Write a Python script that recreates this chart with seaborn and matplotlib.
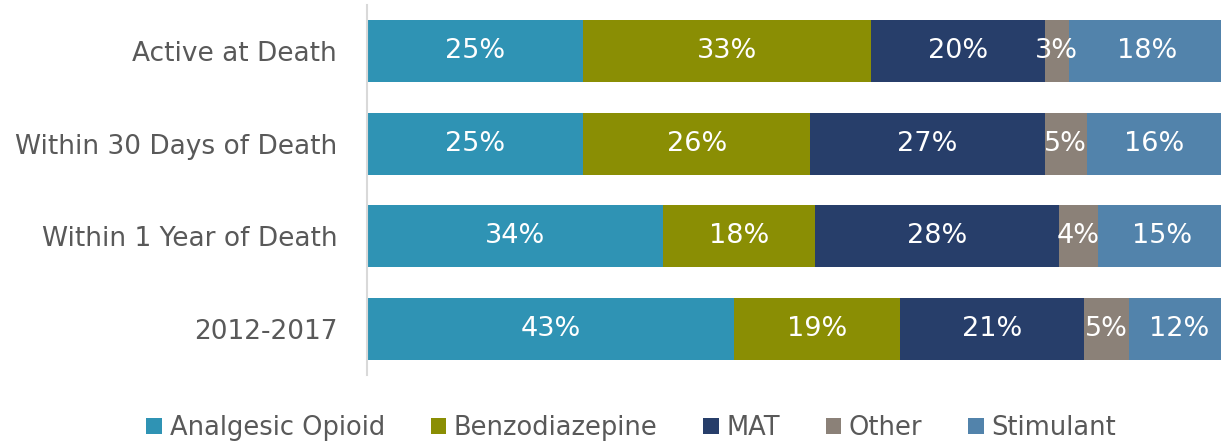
import matplotlib
matplotlib.use("Agg")
import matplotlib.pyplot as plt
import seaborn as sns
import pandas as pd
import numpy as np
from matplotlib.patches import Patch

categories = ["Active at Death", "Within 30 Days of Death", "Within 1 Year of Death", "2012-2017"]
series = ["Analgesic Opioid", "Benzodiazepine", "MAT", "Other", "Stimulant"]
analgesic_opioid = [25.1, 25.1, 34.4, 42.6]
benzodiazepine = [33.4, 26.4, 17.6, 19.3]
mat = [20.2, 27.2, 28.4, 21.4]
other = [2.8, 4.9, 4.45, 5.2]
stimulant = [18.2, 15.6, 14.9, 11.6]
colors = ["#2F93B4", "#8A8E04", "#273E6A", "#8B8178", "#5283AB"]

values = [analgesic_opioid, benzodiazepine, mat, other, stimulant]

sns.set_style("white")
plt.rcParams["font.family"] = ["DejaVu Sans"]

fig = plt.figure(figsize=(12.21, 4.45), dpi=100)
ax = fig.add_axes([367 / 1221, 70 / 445, (1228 - 367) / 1221, 370 / 445])

cum = np.cumsum(np.array(values), axis=0)
# draw cumulative bars from largest to smallest so each segment shows
for i in range(len(series) - 1, -1, -1):
    df = pd.DataFrame({"cat": categories, "val": cum[i]})
    sns.barplot(data=df, x="val", y="cat", orient="h", color=colors[i],
                width=0.674, ax=ax, saturation=1, linewidth=0)

for i in range(len(series)):
    for j in range(len(categories)):
        start = cum[i][j] - values[i][j]
        ax.text(start + values[i][j] / 2, j, f"{values[i][j]:.0f}%",
                ha="center", va="center", color="white", fontsize=19.5)

ax.set_xlim(0, 100)
ax.set_ylim(3.5, -0.5)
ax.set_xlabel("")
ax.set_ylabel("")
ax.set_xticks([])
ax.tick_params(axis="y", length=0, pad=21.5, labelsize=19, labelcolor="#595959")
for s in ["top", "right", "bottom"]:
    ax.spines[s].set_visible(False)
ax.spines["left"].set_color("#D9D9D9")
ax.spines["left"].set_linewidth(1.5)

handles = [Patch(facecolor=c, edgecolor="none") for c in colors]
fig.legend(handles, series, loc="center", bbox_to_anchor=(0.517, 17 / 445), ncol=5,
           frameon=False, fontsize=18.5, labelcolor="#595959",
           handlelength=0.6, handleheight=0.6, handletextpad=0.3, columnspacing=1.78)

fig.savefig("out.png", dpi=100)
